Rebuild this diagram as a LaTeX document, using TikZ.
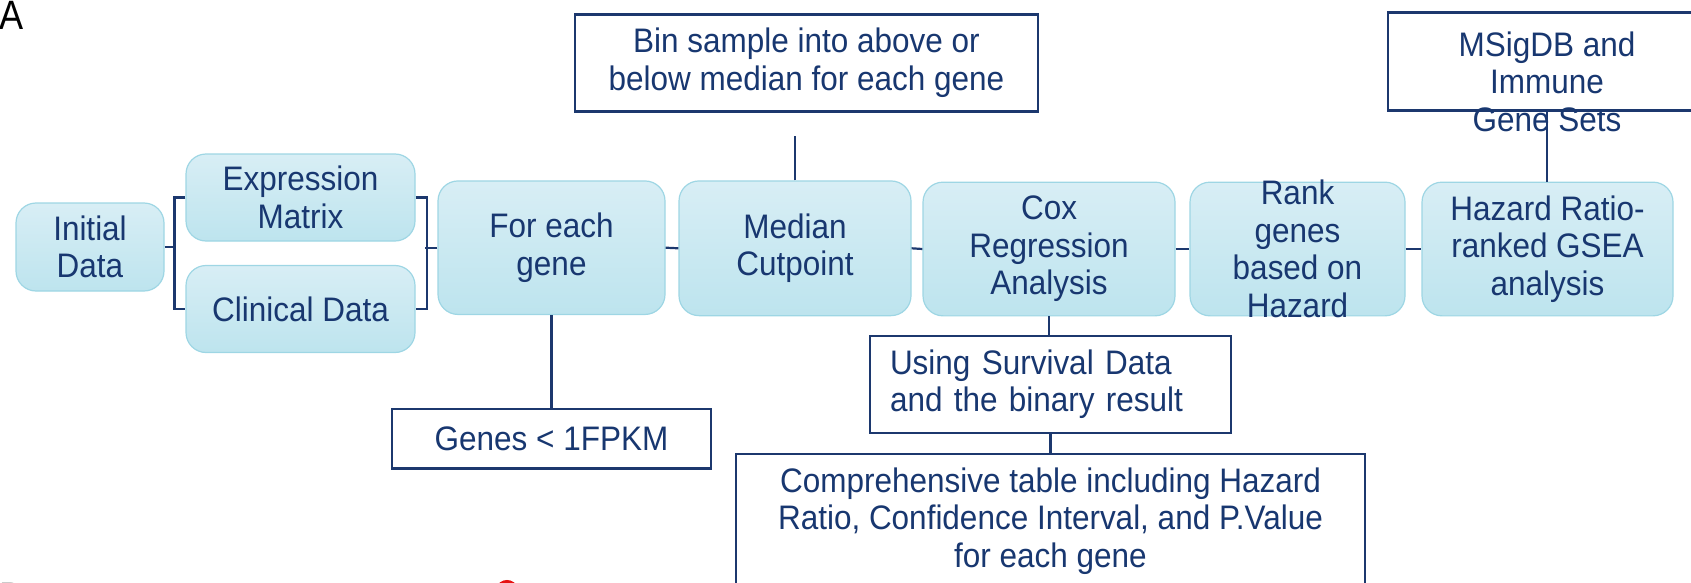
\documentclass[tikz,border=0pt]{standalone}
\usepackage{fontspec}
\setmainfont{Liberation Sans}
\newfontfamily\boxfamily[FakeStretch=0.926]{Liberation Sans}
\newfontfamily\labfamily[FakeStretch=0.88]{Liberation Sans}
\definecolor{txt}{RGB}{24,55,112}
\definecolor{navy}{RGB}{28,56,110}
\definecolor{ftop}{RGB}{216,238,245}
\definecolor{fbot}{RGB}{189,228,238}
\definecolor{fborder}{RGB}{158,214,228}
\definecolor{markred}{RGB}{230,20,20}
\newcommand{\boxfont}{\boxfamily\fontsize{17}{18.8}\selectfont}
\begin{document}
\begin{tikzpicture}[x=0.5pt,y=-0.5pt,
  wh/.style 2 args={minimum width={#1*0.5pt}, minimum height={#2*0.5pt}},
  txtstyle/.style={text=txt, font=\boxfont, align=center, inner sep=0pt},
  stage/.style={rectangle, rounded corners=10pt, draw=fborder, line width=0.6pt,
    top color=ftop, bottom color=fbot, txtstyle},
  note/.style={rectangle, draw=navy, line width=1.2pt, fill=white, txtstyle},
  link/.style={draw=navy, line width=1.1pt}]
\useasboundingbox (0,0) rectangle (1691,583);
\clip (0,0) rectangle (1691,583);

\node[font=\labfamily\fontsize{20.5}{22}\selectfont, inner sep=0pt, anchor=base west] (lblA) at (-1,30) {A};
\node[font=\labfamily\fontsize{20.5}{22}\selectfont, inner sep=0pt, anchor=base west] (lblB) at (-1,611) {B};
\draw[markred, line width=2pt] (507,604) ellipse [x radius=14, y radius=22];

% stages
\node[stage, wh={148}{88}] (init) at (90,247) {Initial\\Data};
\node[stage, wh={229}{87}] (expr) at (300.5,197.5) {Expression\\Matrix};
\node[stage, wh={229}{87}] (clin) at (300.5,309) {Clinical Data};
\node[stage, wh={227}{133.5}] (each) at (551.5,247.7) {For each\\gene};
\node[stage, wh={232}{134.7}] (med) at (795,248.3) {Median\\Cutpoint};
\node[stage, wh={252}{133.7}] (cox) at (1049,249) {Cox\\Regression\\Analysis};
\node[stage, wh={215}{133.7}, label={[txtstyle]center:Rank\\genes\\based on\\Hazard}] (rank) at (1297.5,249) {};
\node[stage, wh={251}{133.7}] (haz) at (1547.5,249) {Hazard Ratio-\\ranked GSEA\\analysis};

% notes
\node[note, wh={463}{97}] (bin) at (806.5,63) {Bin sample into above or\\below median for each gene};
\node[note, wh={319}{59.5}] (genes) at (551.5,438.7) {Genes < 1FPKM};
\node[note, minimum height=48.5pt, align=left, text width=160.5pt, inner xsep=10pt] (surv) at (1050.5,384.3) {Using Survival Data\\and the binary result};
\node[note, wh={629}{200}, anchor=north] (comp) at (1050.5,453) {};
\node[txtstyle] (comptext) at (1050.5,521) {Comprehensive table including Hazard\\Ratio, Confidence Interval, and P.Value\\for each gene};
\node[note, wh={318}{98}] (msig) at (1547,61.4) {};
\node[txtstyle] (msigtext) at (1547,81.5) {MSigDB and\\Immune\\Gene Sets};

% connectors
\draw[link] (init.east) -- ++(11,0);
\draw[link] (expr.west) -- ++(-11,0) |- (clin.west);
\draw[link] (expr.east) -- ++(11,0) |- (clin.east);
\draw[link] (each.west) -- ++(-12,0);
\draw[link] (each.east) -- (med.west);
\draw[link] (med.east) -- (cox.west);
\draw[link] (cox.east) -- (rank.west);
\draw[link] (rank.east) -- (haz.west);
\draw[link] (med.north) -- ++(0,-44);
\draw[link] (each.south) -- (genes.north);
\draw[link] (cox.south) -- (cox.south |- surv.north);
\draw[link] (surv.south) -- (surv.south |- comp.north);
\draw[link] (msig.south) -- (msig.south |- haz.north);
\end{tikzpicture}
\end{document}
